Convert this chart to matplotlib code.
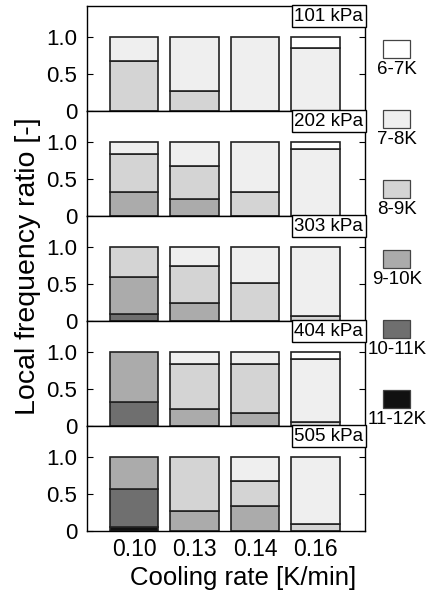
#!/usr/bin/env python3
# -*- coding: utf-8 -*-
"""
Stacked local frequency ratio of bubble temperature classes vs cooling rate,
one panel per pressure
"""
#%% Import packages
import numpy as np
import matplotlib
matplotlib.use('Agg')
import matplotlib.pyplot as plt
from matplotlib.patches import Rectangle

plt.rcParams['font.family'] = ['Liberation Sans', 'DejaVu Sans']

#%% Data (fractions, classes listed bottom -> top)
rates = ['0.10', '0.13', '0.14', '0.16']
pressures = ['101 kPa', '202 kPa', '303 kPa', '404 kPa', '505 kPa']
classes = ['11-12K', '10-11K', '9-10K', '8-9K', '7-8K', '6-7K']
class_colors = ['#111111', '#6f6f6f', '#ababab', '#d4d4d4', '#efefef', '#ffffff']

# rows follow classes order, columns follow rates
frac_101 = [[0, 0, 0, 0],
            [0, 0, 0, 0],
            [0, 0, 0, 0],
            [0.67, 0.27, 0, 0],
            [0.33, 0.73, 1.00, 0.85],
            [0, 0, 0, 0.15]]
frac_202 = [[0, 0, 0, 0],
            [0, 0, 0, 0],
            [0.33, 0.23, 0, 0],
            [0.51, 0.45, 0.33, 0],
            [0.16, 0.32, 0.67, 0.90],
            [0, 0, 0, 0.10]]
frac_303 = [[0, 0, 0, 0],
            [0.10, 0, 0, 0],
            [0.50, 0.24, 0, 0],
            [0.40, 0.50, 0.51, 0.07],
            [0, 0.26, 0.49, 0.93],
            [0, 0, 0, 0]]
frac_404 = [[0, 0, 0, 0],
            [0.33, 0, 0, 0],
            [0.67, 0.23, 0.17, 0],
            [0, 0.61, 0.67, 0.06],
            [0, 0.16, 0.16, 0.84],
            [0, 0, 0, 0.10]]
frac_505 = [[0.06, 0, 0, 0],
            [0.51, 0, 0, 0],
            [0.43, 0.27, 0.34, 0],
            [0, 0.73, 0.34, 0.10],
            [0, 0, 0.32, 0.90],
            [0, 0, 0, 0]]
all_frac = [frac_101, frac_202, frac_303, frac_404, frac_505]

#%% Figure
W, H = 439, 591
f = plt.figure(figsize=(W / 100, H / 100), dpi=100)

x = np.arange(len(rates))
left, right = 87, 365
for i, (press, frac) in enumerate(zip(pressures, all_frac)):
    top_px = 6 + 105 * i
    bot_px = 111 + 105 * i
    ax = f.add_axes([left / W, 1 - bot_px / H, (right - left) / W,
                     (bot_px - top_px) / H])
    bottom = np.zeros(len(rates))
    for vals, col in zip(frac, class_colors):
        vals = np.array(vals, dtype=float)
        m = vals > 0
        ax.bar(x[m], vals[m], 0.8, bottom=bottom[m], color=col,
               edgecolor='#222222', linewidth=1.2)
        bottom += vals
    ax.set_xlim(-0.78, 3.82)
    ax.set_ylim(0, 1.42)
    ax.set_yticks([0, 0.5, 1.0])
    ax.set_yticklabels(['0', '0.5', '1.0'])
    ax.tick_params(axis='y', labelsize=16, length=4, direction='in',
                   right=True, width=0.8, pad=7)
    ax.tick_params(axis='x', length=0)
    if i < len(pressures) - 1:
        ax.set_xticks([])
    else:
        ax.set_xticks(x)
        ax.set_xticklabels(rates)
        ax.tick_params(axis='x', labelsize=16.5, pad=5)
        ax.set_xlabel('Cooling rate [K/min]', fontsize=18.5)
        ax.xaxis.set_label_coords((243 - left) / (right - left), -0.33)
    for s in ax.spines.values():
        s.set_linewidth(1.0)
    ax.text(0.994, 0.985, press, transform=ax.transAxes, ha='right', va='top',
            fontsize=13.5, zorder=5,
            bbox=dict(boxstyle='square,pad=0.12', fc='white', ec='black', lw=1.0))

f.text(28 / W, 1 - 266 / H, 'Local frequency ratio [-]', rotation=90,
       ha='center', va='center', fontsize=20.5)

#%% Legend, patch above label
leg_top = [40, 110, 180, 250, 320, 390]
for lab, col, ty in zip(classes[::-1], class_colors[::-1], leg_top):
    f.patches.append(Rectangle((383 / W, 1 - (ty + 18) / H), 27 / W, 18 / H,
                               transform=f.transFigure, facecolor=col,
                               edgecolor='#444444', linewidth=0.9))
    f.text(397 / W, 1 - (ty + 29) / H, lab, ha='center', va='center',
           fontsize=13.5)

f.savefig('out.png', dpi=100)
